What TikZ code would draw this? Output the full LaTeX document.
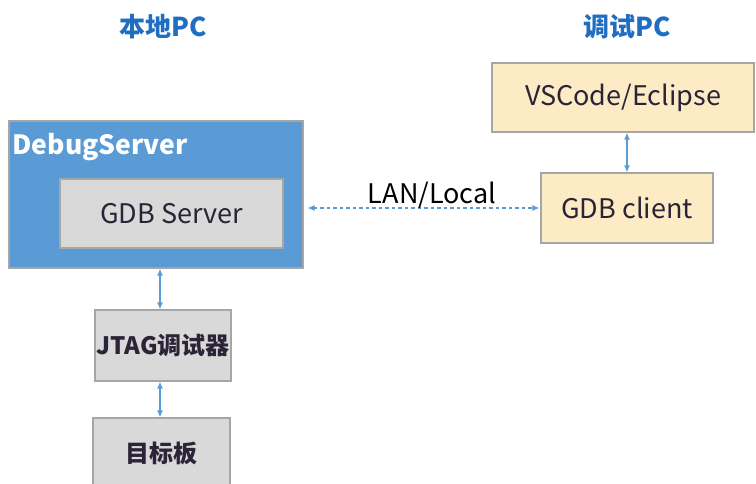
\documentclass[tikz,border=0pt]{standalone}
\usepackage{fontspec}
\setmainfont{Noto Sans CJK SC}
\usetikzlibrary{arrows.meta}
\definecolor{dsblue}{HTML}{5B9BD5}
\definecolor{titleblue}{HTML}{1F6EC0}
\definecolor{boxgray}{HTML}{D9D9D9}
\definecolor{edgegray}{HTML}{A6A6A6}
\definecolor{pcyellow}{HTML}{FDEBC6}
\definecolor{txtdark}{HTML}{2B2436}

\begin{document}
\begin{tikzpicture}[x=1pt, y=-1pt,
	box/.style={draw=edgegray, line width=1.2pt, text=txtdark, inner sep=0pt},
	graybox/.style={box, fill=boxgray},
	pcbox/.style={box, fill=pcyellow},
	title/.style={text=titleblue, font=\bfseries\fontsize{26}{30}\selectfont},
	link/.style={{Latex[length=7pt,width=6pt]}-{Latex[length=7pt,width=6pt]}, dsblue, line width=1.3pt}]
	\useasboundingbox (0,0) rectangle (756,484);
	% titles
	\node[title] (local) at (163,27) {本地PC};
	\node[title] (remote) at (627,27) {调试PC};
	% local side
	\node[box, fill=dsblue, minimum width=294pt, minimum height=147pt] (dbg) at (156,194.5) {};
	\node[anchor=west, text=white, font=\bfseries\fontsize{26.5}{30}\selectfont] (dbglabel) at (9,147) {DebugServer};
	\node[graybox, minimum width=223pt, minimum height=69pt, font=\fontsize{27}{31}\selectfont] (gdbs) at (171.5,213.5) {GDB Server};
	\node[graybox, minimum width=136pt, minimum height=71pt, font=\bfseries\fontsize{24}{28}\selectfont] (jtag) at (163,345.5) {JTAG调试器};
	\node[graybox, minimum width=137pt, minimum height=71pt, font=\bfseries\fontsize{24}{28}\selectfont] (board) at (161.5,453.5) {目标板};
	% debug side
	\node[pcbox, minimum width=262pt, minimum height=69pt, font=\fontsize{27}{31}\selectfont] (ide) at (623,97.5) {VSCode/Eclipse};
	\node[pcbox, minimum width=172pt, minimum height=70pt, font=\fontsize{27}{31}\selectfont] (gdbc) at (627,208) {GDB client};
	% links
	\draw[link] (gdbc.north) -- (gdbc.north |- ide.south);
	\draw[link, dashed, dash pattern=on 3.5pt off 3pt, shorten <=4pt, shorten >=1pt] (dbg.east |- gdbc.west) -- node[above=-4pt, xshift=10pt, text=black, font=\fontsize{27}{31}\selectfont] (lan) {LAN/Local} (gdbc.west);
	\draw[link] (jtag.north -| 160,0) -- (dbg.south -| 160,0);
	\draw[link] (board.north -| 160,0) -- (jtag.south -| 160,0);
\end{tikzpicture}
\end{document}
